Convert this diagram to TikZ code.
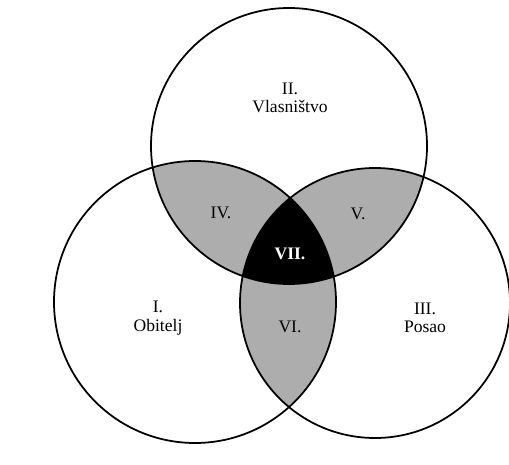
\documentclass[tikz,border=0pt]{standalone}
\usepackage{fontspec}
\setmainfont{Liberation Serif}
\usepackage{xcolor}
\usepackage{tikz}

\begin{document}
\begin{tikzpicture}[x=0.02cm,y=-0.02cm,
  ring/.style={line width=1pt},
  lens/.style={fill=black!32},
  lbl/.style={align=center,font=\fontsize{10}{10.5}\selectfont}]
\useasboundingbox (0,0) rectangle (509,465);
\coordinate (own) at (289,146);
\coordinate (fam) at (195,302);
\coordinate (biz) at (375,303);
% two-way overlaps
\begin{scope}
\clip (own) circle (138);
\fill[lens] (fam) circle (141);
\fill[lens] (biz) circle (135);
\end{scope}
\begin{scope}
\clip (fam) circle (141);
\fill[lens] (biz) circle (135);
\end{scope}
% three-way overlap
\begin{scope}
\clip (own) circle (138);
\clip (fam) circle (141);
\fill[black] (biz) circle (135);
\end{scope}
\draw[ring] (own) circle (138);
\draw[ring] (fam) circle (141);
\draw[ring] (biz) circle (135);
\node[lbl] (vlas) at (290,98) {II.\\Vlasništvo};
\node[lbl] (obit) at (158,318) {I.\\Obitelj};
\node[lbl] (posa) at (425,318) {III.\\Posao};
\node[lbl] (iv) at (221,213) {IV.};
\node[lbl] (v) at (358,214) {V.};
\node[lbl] (vi) at (290,327) {VI.};
\node[lbl,text=white,font=\fontsize{10}{10.5}\selectfont\bfseries] (vii) at (290,254) {VII.};
\end{tikzpicture}
\end{document}
